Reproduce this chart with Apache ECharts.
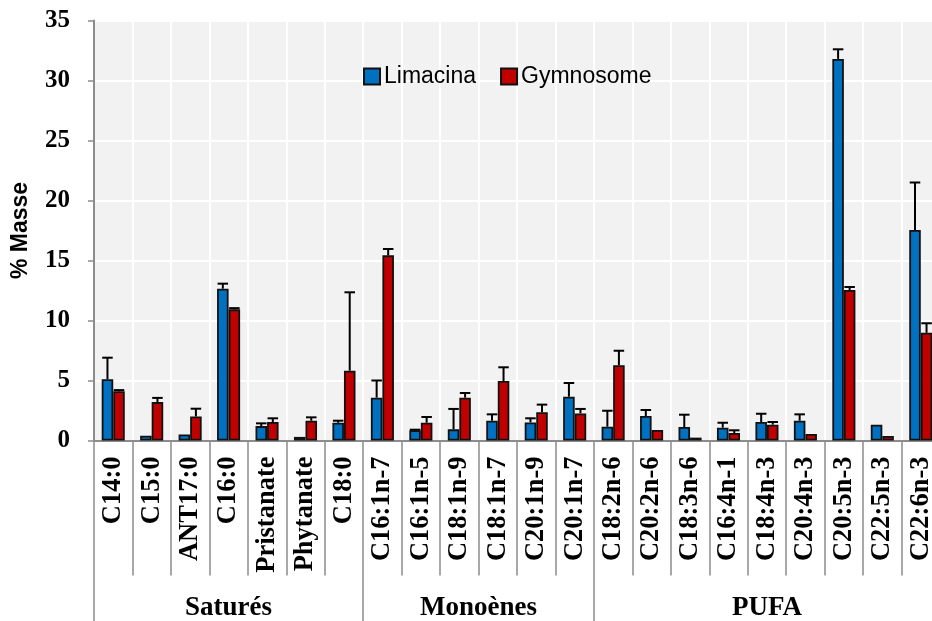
<!DOCTYPE html>
<html>
<head>
<meta charset="utf-8">
<script src="https://cdn.jsdelivr.net/npm/echarts@6/dist/echarts.min.js"></script>
<style>html,body{margin:0;padding:0;background:#fff;overflow:hidden}#c{width:932px;height:621px}</style>
</head>
<body>
<div id="c"></div>
<script>
const categories = ['C14:0','C15:0','ANT17:0','C16:0','Pristanate','Phytanate','C18:0',
  'C16:1n-7','C16:1n-5','C18:1n-9','C18:1n-7','C20:1n-9','C20:1n-7',
  'C18:2n-6','C20:2n-6','C18:3n-6','C16:4n-1','C18:4n-3','C20:4n-3','C20:5n-3','C22:5n-3','C22:6n-3'];
const limacina    = [5.1, 0.4, 0.5, 12.65, 1.2, 0.3, 1.48, 3.57, 0.85, 0.93, 1.65, 1.51, 3.65, 1.15, 2.04, 1.12, 1.07, 1.54, 1.65, 31.8, 1.32, 17.54];
const limacinaSD  = [1.8, 0, 0, 0.42, 0.23, 0, 0.17, 1.43, 0.05, 1.7, 0.53, 0.34, 1.14, 1.33, 0.5, 1.03, 0.41, 0.69, 0.53, 0.8, 0, 3.96];
const gymnosome   = [4.1, 3.2, 2.0, 10.93, 1.54, 1.65, 5.82, 15.43, 1.48, 3.57, 4.96, 2.35, 2.26, 6.27, 0.87, 0.24, 0.62, 1.32, 0.54, 12.54, 0.37, 8.98];
const gymnosomeSD = [0.1, 0.35, 0.65, 0.1, 0.31, 0.28, 6.53, 0.53, 0.48, 0.39, 1.14, 0.64, 0.37, 1.21, 0, 0, 0.23, 0.22, 0, 0.25, 0, 0.79];
const groups = ['Saturés', 'Monoènes', 'PUFA'];
const groupStarts = [0, 7, 13];
const groupEnds = [7, 13, 22];
const yTicks = [0, 5, 10, 15, 20, 25, 30, 35];

const BAR_FRAC = 0.3;
const serif = 'Liberation Serif';
const sans = 'Liberation Sans';
const grey = '#8c8c8c';

function errItem(sign) {
  return function (params, api) {
    const x = api.value(0), v = api.value(1), sd = api.value(2);
    if (!(sd > 0)) return null;
    const band = api.size([1, 0])[0];
    const bw = band * BAR_FRAC;
    const base = api.coord([x, v]);
    const top = api.coord([x, v + sd]);
    const cx = base[0] + sign * bw / 2;
    const st = { stroke: '#000', lineWidth: 2 };
    return {
      type: 'group',
      children: [
        { type: 'line', shape: { x1: cx, y1: base[1], x2: cx, y2: top[1] }, style: st },
        { type: 'line', shape: { x1: cx - bw / 2 + 0.5, y1: top[1], x2: cx + bw / 2 - 0.5, y2: top[1] }, style: st }
      ]
    };
  };
}

const chart = echarts.init(document.getElementById('c'), null, { renderer: 'canvas' });
chart.setOption({
  animation: false,
  backgroundColor: '#fff',
  legend: {
    left: 358, top: 60,
    itemWidth: 16, itemHeight: 16, itemGap: 24,
    icon: 'rect',
    textStyle: { fontFamily: sans, fontSize: 23, color: '#000', padding: [0, 0, 0, -1] },
    data: ['Limacina', 'Gymnosome']
  },
  grid: {
    left: 94, top: 20.5, width: 846, height: 420,
    outerBoundsMode: 'none', containLabel: false,
    show: true, backgroundColor: '#f2f2f2', borderWidth: 0
  },
  yAxis: {
    type: 'value', min: 0, max: 35, interval: 5,
    name: '% Masse', nameLocation: 'middle', nameGap: 62, nameRotate: 90,
    nameTextStyle: { fontFamily: sans, fontWeight: 'bold', fontSize: 23, color: '#000' },
    axisLine: { show: true, lineStyle: { color: grey, width: 2 } },
    axisTick: { show: true, length: 6, lineStyle: { color: grey, width: 1.5 } },
    axisLabel: { fontFamily: serif, fontWeight: 'bold', fontSize: 25, color: '#000', margin: 24 },
    splitLine: { show: true, lineStyle: { color: '#fff', width: 2 } }
  },
  xAxis: [
    {
      type: 'category', data: categories, boundaryGap: true,
      axisLine: { show: true, onZero: false, lineStyle: { color: grey, width: 2 } },
      axisTick: { show: true, interval: 0, length: 135, lineStyle: { color: grey, width: 1.5 } },
      axisLabel: { interval: 0, rotate: 90, margin: 16, fontFamily: serif, fontWeight: 'bold', fontSize: 26.5, color: '#000' },
      splitLine: { show: true, interval: 0, lineStyle: { color: '#fff', width: 2 } }
    },
    {
      type: 'value', min: 0, max: 22, position: 'bottom',
      axisLine: { show: false },
      axisTick: { show: true, customValues: groupStarts, length: 181, lineStyle: { color: grey, width: 1.5 } },
      axisLabel: {
        show: true,
        customValues: groups.map((g, i) => (groupStarts[i] + groupEnds[i]) / 2),
        formatter: function (val) {
          for (let i = 0; i < groups.length; i++) {
            if (Math.abs((groupStarts[i] + groupEnds[i]) / 2 - val) < 0.01) return groups[i];
          }
          return '';
        },
        margin: 154, fontFamily: serif, fontWeight: 'bold', fontSize: 27, color: '#000'
      },
      splitLine: { show: false }
    }
  ],
  series: [
    {
      name: 'Limacina', type: 'bar', xAxisIndex: 0, data: limacina,
      barWidth: (BAR_FRAC * 100) + '%', barGap: '0%',
      itemStyle: { color: '#0070C0', borderColor: '#111', borderWidth: 1.8 }
    },
    {
      name: 'Gymnosome', type: 'bar', xAxisIndex: 0, data: gymnosome,
      barWidth: (BAR_FRAC * 100) + '%', barGap: '0%',
      itemStyle: { color: '#C00000', borderColor: '#111', borderWidth: 1.8 }
    },
    {
      type: 'custom', xAxisIndex: 0, renderItem: errItem(-1), z: 5,
      data: limacina.map((v, i) => [i, v, limacinaSD[i]])
    },
    {
      type: 'custom', xAxisIndex: 0, renderItem: errItem(1), z: 5,
      data: gymnosome.map((v, i) => [i, v, gymnosomeSD[i]])
    }
  ]
});
</script>
</body>
</html>
